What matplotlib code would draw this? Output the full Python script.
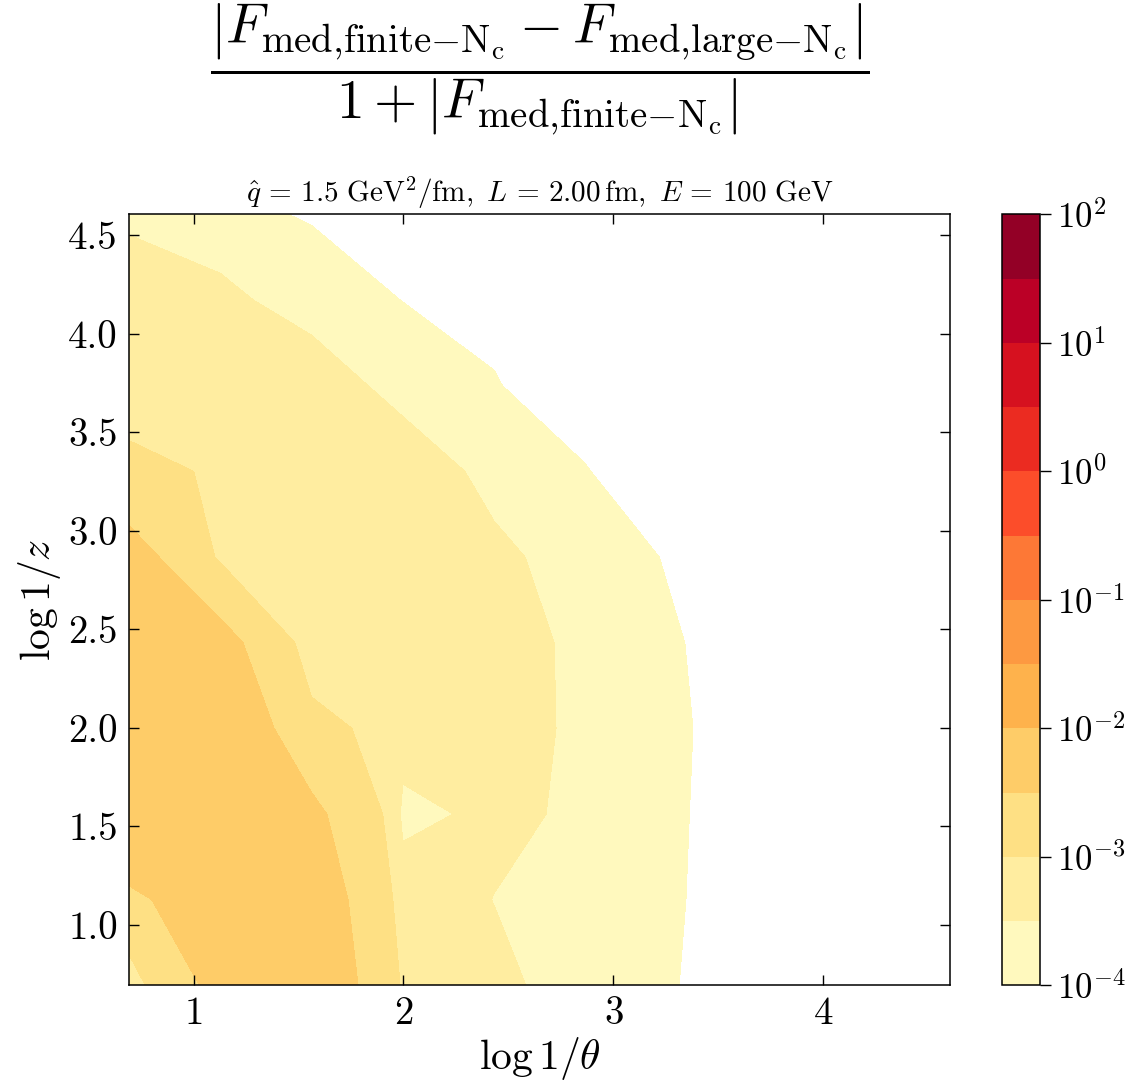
import numpy as np
import matplotlib
matplotlib.use("Agg")
import matplotlib.pyplot as plt
from matplotlib.colors import LogNorm

plt.rcParams['font.family'] = 'serif'
plt.rcParams['font.serif'] = ['cmr10']
plt.rcParams['mathtext.fontset'] = 'cm'
plt.rcParams['axes.formatter.use_mathtext'] = True
plt.rcParams['axes.unicode_minus'] = False

# grid: log(1/theta) and log(1/z), from log 2 to log 100
log_inv_theta = [0.693, 1.128, 1.562, 1.997, 2.432, 2.866, 3.301, 3.736, 4.171, 4.605]
log_inv_z = [0.693, 1.128, 1.562, 1.997, 2.432, 2.866, 3.301, 3.736, 4.171, 4.605]

# relative difference, one row per log(1/z) value (bottom -> top)
rel_diff = [
    [3.5e-4, 4.0e-3, 5.56e-3, 8.6e-4, 4.0e-4, 1.6e-4, 1.02e-4, 3e-5, 2e-5, 1e-5],
    [2.16e-3, 6.2e-3, 4.93e-3, 5.2e-4, 3.1e-4, 1.5e-4, 1.08e-4, 3e-5, 2e-5, 1e-5],
    [8.4e-3, 7.0e-3, 3.76e-3, 2.2e-4, 3.95e-4, 2.57e-4, 1.114e-4, 3e-5, 2e-5, 1e-5],
    [7.0e-3, 5.7e-3, 1.4e-3, 4.95e-4, 4.5e-4, 2.53e-4, 1.153e-4, 3e-5, 2e-5, 1e-5],
    [6.0e-3, 4.1e-3, 3.1e-4, 5.0e-4, 4.5e-4, 2.47e-4, 1.069e-4, 3e-5, 2e-5, 1e-5],
    [4.33e-3, 7.9e-4, 7.0e-4, 6.0e-4, 3.95e-4, 1.63e-4, 8.53e-5, 3e-5, 2e-5, 1e-5],
    [1.17e-3, 9.3e-4, 8.0e-4, 5.48e-4, 2.07e-4, 1.032e-4, 5e-5, 2.5e-5, 1.5e-5, 1e-5],
    [6.97e-4, 6.5e-4, 5.29e-4, 1.86e-4, 1.032e-4, 6.8e-5, 4e-5, 2e-5, 1.5e-5, 1e-5],
    [5.5e-4, 4.0e-4, 1.68e-4, 9.79e-5, 8.54e-5, 4e-5, 3e-5, 2e-5, 1e-5, 1e-5],
    [2.42e-4, 1.3e-4, 9.0e-5, 6e-5, 4e-5, 3e-5, 2e-5, 1.5e-5, 1e-5, 1e-5],
]

cbar_ticks = [1e-4, 1e-3, 1e-2, 1e-1, 1e0, 1e1, 1e2]

X, Y = np.meshgrid(log_inv_theta, log_inv_z)
Z = np.array(rel_diff)

fig = plt.figure(figsize=(11.43, 10.81), dpi=100)
ax = fig.add_axes([0.1129, 0.0885, 0.7186, 0.7132])
cax = fig.add_axes([0.8764, 0.0885, 0.0335, 0.7132])

levels = np.logspace(-4, 2, 13)
cs = ax.contourf(X, Y, Z, levels=levels, norm=LogNorm(vmin=1e-4, vmax=1e2), cmap='YlOrRd')

ax.set_xlim(log_inv_theta[0], log_inv_theta[-1])
ax.set_ylim(log_inv_z[0], log_inv_z[-1])
ax.set_xticks([1, 2, 3, 4])
ax.set_yticks([1.0, 1.5, 2.0, 2.5, 3.0, 3.5, 4.0, 4.5])
ax.set_yticklabels(['1.0', '1.5', '2.0', '2.5', '3.0', '3.5', '4.0', '4.5'])
ax.tick_params(direction='in', top=True, right=True, length=7, width=1, labelsize=28, pad=8)
for s in ax.spines.values():
    s.set_linewidth(1.1)

ax.set_xlabel(r'$\log 1/\theta$', fontsize=30, labelpad=2)
ax.set_ylabel(r'$\log 1/z$', fontsize=30, labelpad=4)
ax.set_title(r'$\hat{q}\,=\,1.5\ \mathrm{GeV}^2/\mathrm{fm},\ L\,=\,2.00\,\mathrm{fm},\ E\,=\,100\ \mathrm{GeV}$',
             fontsize=21, pad=9)

fig.text(0.472, 0.936,
         r'$\dfrac{\left|F_{\mathrm{med{,}finite{-}N_c}} - F_{\mathrm{med{,}large{-}N_c}}\right|}'
         r'{1+\left|F_{\mathrm{med{,}finite{-}N_c}}\right|}$',
         fontsize=40, ha='center', va='center')

cbar = fig.colorbar(cs, cax=cax, ticks=cbar_ticks)
cbar.ax.minorticks_off()
cbar.ax.tick_params(length=8, width=1, labelsize=25, pad=4)
cbar.outline.set_linewidth(1.1)

fig.savefig('out.png', dpi=100)
